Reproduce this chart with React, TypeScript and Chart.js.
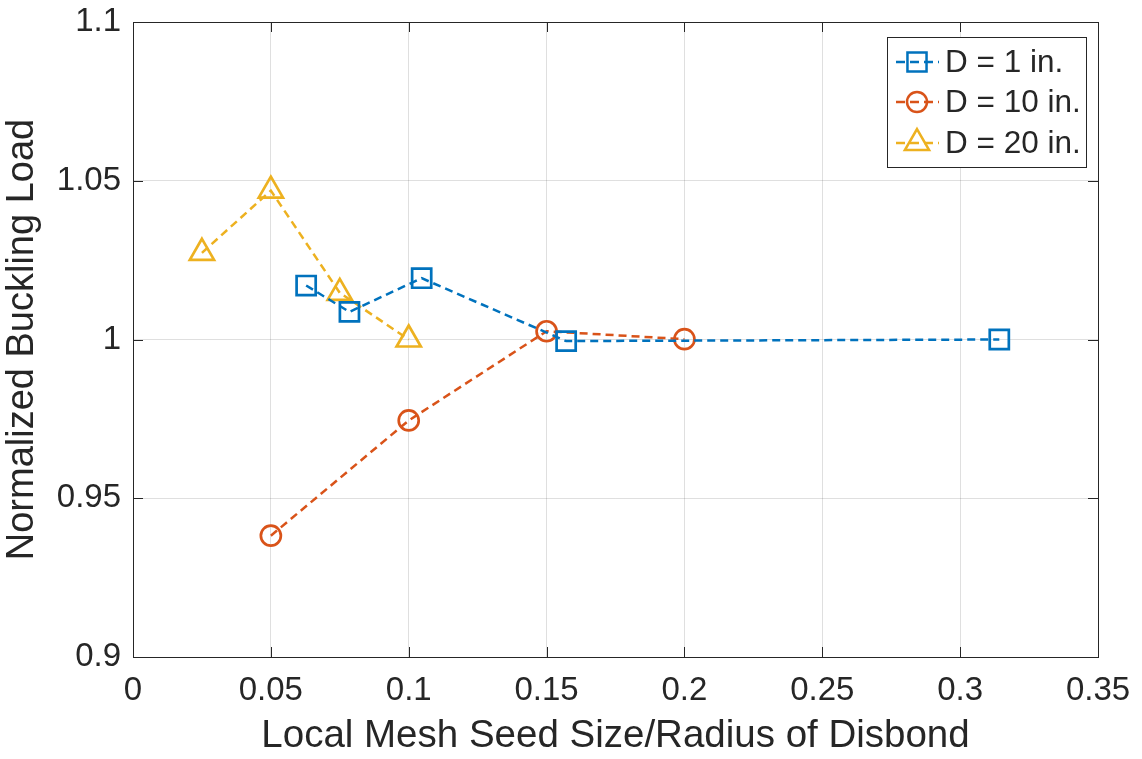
import React, { useEffect, useRef } from "react";
import { Chart, registerables } from "chart.js";

Chart.register(...registerables);

const seriesLabels = ["D = 1 in.", "D = 10 in.", "D = 20 in."];
const d1X = [0.0628, 0.0785, 0.1047, 0.1571, 0.3142];
const d1Y = [1.017, 1.0087, 1.0193, 0.9995, 1.0];
const d10X = [0.05, 0.1, 0.15, 0.2];
const d10Y = [0.9382, 0.9745, 1.0026, 1.0001];
const d20X = [0.025, 0.05, 0.075, 0.1];
const d20Y = [1.0273, 1.0469, 1.0147, 1.0];
const seriesColors = ["#0072BD", "#D95319", "#EDB120"];
const seriesStyles = ["rect", "circle", "triangle"];
const pointRadii = [13.5, 10, 14];

const xTitle = "Local Mesh Seed Size/Radius of Disbond";
const yTitle = "Normalized Buckling Load";
const xMin = 0, xMax = 0.35, xStep = 0.05;
const yMin = 0.9, yMax = 1.1, yStep = 0.05;

const FONT = "'Liberation Sans', Arial, sans-serif";
const AX = "#262626";

const fmt = (v: any) => String(+Number(v).toFixed(3));

function drawMarker(ctx: CanvasRenderingContext2D, style: string, x: number, y: number, r: number) {
  ctx.beginPath();
  if (style === "rect") {
    const s = Math.SQRT1_2 * r;
    ctx.rect(x - s, y - s, 2 * s, 2 * s);
  } else if (style === "circle") {
    ctx.arc(x, y, r, 0, Math.PI * 2);
  } else {
    let rad = 0;
    ctx.moveTo(x + Math.sin(rad) * r, y - Math.cos(rad) * r);
    rad += (2 * Math.PI) / 3;
    ctx.lineTo(x + Math.sin(rad) * r, y - Math.cos(rad) * r);
    rad += (2 * Math.PI) / 3;
    ctx.lineTo(x + Math.sin(rad) * r, y - Math.cos(rad) * r);
    ctx.closePath();
  }
  ctx.stroke();
}

const boxPlugin = {
  id: "matlabBox",
  afterDatasetsDraw(chart: any) {
    const { ctx, chartArea: a, scales } = chart;
    ctx.save();
    ctx.strokeStyle = AX;
    ctx.lineWidth = 1;
    ctx.strokeRect(a.left + 0.5, a.top + 0.5, a.right - a.left, a.bottom - a.top);
    const tl = 10;
    ctx.beginPath();
    scales.x.ticks.forEach((t: any) => {
      const px = Math.round(scales.x.getPixelForValue(t.value)) + 0.5;
      ctx.moveTo(px, a.bottom);
      ctx.lineTo(px, a.bottom - tl);
      ctx.moveTo(px, a.top);
      ctx.lineTo(px, a.top + tl);
    });
    scales.y.ticks.forEach((t: any) => {
      const py = Math.round(scales.y.getPixelForValue(t.value)) + 0.5;
      ctx.moveTo(a.left, py);
      ctx.lineTo(a.left + tl, py);
      ctx.moveTo(a.right, py);
      ctx.lineTo(a.right - tl, py);
    });
    ctx.stroke();

    // legend
    const L = 887, T = 37, R = 1086, B = 167;
    ctx.fillStyle = "#ffffff";
    ctx.fillRect(L, T, R - L, B - T);
    ctx.strokeStyle = AX;
    ctx.strokeRect(L + 0.5, T + 0.5, R - L, B - T);
    const rows = [62, 102, 143];
    chart.data.datasets.forEach((ds: any, i: number) => {
      const y = rows[i];
      ctx.strokeStyle = ds.borderColor;
      ctx.lineWidth = 2.5;
      ctx.setLineDash([9, 5]);
      ctx.beginPath();
      ctx.moveTo(896, y);
      ctx.lineTo(939, y);
      ctx.stroke();
      ctx.setLineDash([]);
      ctx.lineWidth = 2.5;
      drawMarker(ctx, ds.pointStyle, 917, y, ds.pointRadius);
      ctx.fillStyle = AX;
      ctx.font = `31.5px ${FONT}`;
      ctx.textBaseline = "middle";
      ctx.textAlign = "left";
      ctx.fillText(ds.label, 945, y + 1);
    });
    ctx.restore();
  },
};

export default function App() {
  const ref = useRef<HTMLCanvasElement>(null);
  useEffect(() => {
    const mk = (xs: number[], ys: number[]) => xs.map((x, i) => ({ x, y: ys[i] }));
    const sets = [mk(d1X, d1Y), mk(d10X, d10Y), mk(d20X, d20Y)];
    const chart = new Chart(ref.current!, {
      type: "line",
      data: {
        datasets: sets.map((data, i) => ({
          label: seriesLabels[i],
          data,
          borderColor: seriesColors[i],
          backgroundColor: "rgba(0,0,0,0)",
          borderWidth: 2.5,
          borderDash: [8, 5],
          pointStyle: seriesStyles[i] as any,
          pointRadius: pointRadii[i],
          pointBorderWidth: 2.7,
          pointBorderColor: seriesColors[i],
          pointBackgroundColor: "rgba(0,0,0,0)",
          fill: false,
          tension: 0,
        })),
      },
      options: {
        animation: false,
        responsive: false,
        devicePixelRatio: 1,
        layout: { padding: { left: 0, top: 22, right: 44, bottom: 0 } },
        plugins: { legend: { display: false }, tooltip: { enabled: false } },
        scales: {
          x: {
            type: "linear",
            min: xMin,
            max: xMax,
            afterFit: (s: any) => {
              s.height = 102;
              s.paddingLeft = 0;
              s.paddingRight = 0;
            },
            ticks: {
              stepSize: xStep,
              color: AX,
              font: { family: FONT, size: 33 },
              padding: 14,
              maxRotation: 0,
              autoSkip: false,
              callback: fmt,
            },
            grid: { color: "rgba(38,38,38,0.15)", drawTicks: false, lineWidth: 1 },
            border: { display: false },
            title: {
              display: true,
              text: xTitle,
              color: AX,
              font: { family: FONT, size: 38.5 },
              padding: { top: 0, bottom: 0 },
            },
          },
          y: {
            type: "linear",
            min: yMin,
            max: yMax,
            afterFit: (s: any) => {
              s.width = 133;
              s.paddingTop = 0;
              s.paddingBottom = 0;
            },
            ticks: {
              stepSize: yStep,
              color: AX,
              font: { family: FONT, size: 33 },
              padding: 12,
              autoSkip: false,
              callback: fmt,
            },
            grid: { color: "rgba(38,38,38,0.15)", drawTicks: false, lineWidth: 1 },
            border: { display: false },
            title: {
              display: true,
              text: yTitle,
              color: AX,
              font: { family: FONT, size: 38 },
              padding: { top: 0, bottom: 0 },
            },
          },
        },
      },
      plugins: [boxPlugin],
    });
    return () => chart.destroy();
  }, []);
  return (
    <div style={{ position: "absolute", left: 0, top: 0, width: 1142, height: 759, background: "#fff" }}>
      <canvas ref={ref} width={1142} height={759} />
    </div>
  );
}
